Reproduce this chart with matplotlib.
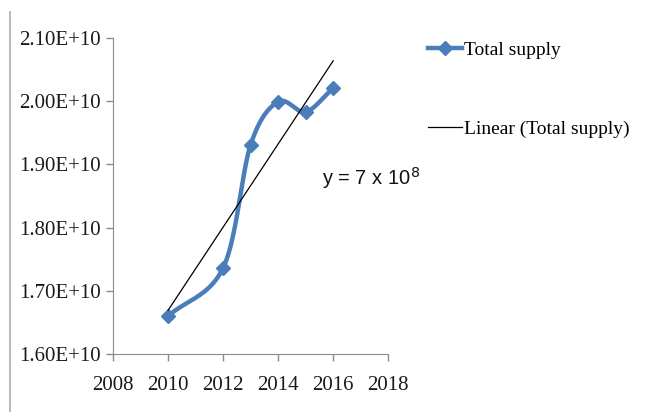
import numpy as np
import matplotlib.pyplot as plt
from matplotlib.lines import Line2D

years = [2010, 2012, 2013, 2014, 2015, 2016]
total_supply = [1.660e10, 1.736e10, 1.931e10, 1.999e10, 1.983e10, 2.021e10]
x_ticks = [2008, 2010, 2012, 2014, 2016, 2018]
y_ticks = [1.6e10, 1.7e10, 1.8e10, 1.9e10, 2.0e10, 2.1e10]

blue = '#4a7ebb'
grey = '#8c8c8c'


def smooth(xs, ys, n=40):
    # Catmull-Rom curve through the points (like Excel's smoothed line)
    xs = np.asarray(xs, float)
    ys = np.asarray(ys, float)
    px = np.concatenate([[2 * xs[0] - xs[1]], xs, [2 * xs[-1] - xs[-2]]])
    py = np.concatenate([[2 * ys[0] - ys[1]], ys, [2 * ys[-1] - ys[-2]]])
    out_x, out_y = [], []
    t = np.linspace(0, 1, n)
    for i in range(1, len(px) - 2):
        for p, out in ((px, out_x), (py, out_y)):
            p0, p1, p2, p3 = p[i - 1], p[i], p[i + 1], p[i + 2]
            seg = 0.5 * ((2 * p1) + (-p0 + p2) * t
                         + (2 * p0 - 5 * p1 + 4 * p2 - p3) * t ** 2
                         + (-p0 + 3 * p1 - 3 * p2 + p3) * t ** 3)
            out.extend(seg)
    return out_x, out_y


fig = plt.figure(figsize=(6.46, 4.12), dpi=100)
ax = fig.add_axes([0.175, 0.141, 0.426, 0.767])

sx, sy = smooth(years, total_supply)
ax.plot(sx, sy, color=blue, lw=3.2, solid_capstyle='round', zorder=3)
ax.plot(years, total_supply, 'D', color=blue, ms=7.5, zorder=4)

coef = np.polyfit(years, total_supply, 1)
tx = np.array([years[0], years[-1]])
ax.plot(tx, np.polyval(coef, tx), color='black', lw=0.9, zorder=5)

ax.set_xlim(2008, 2018)
ax.set_ylim(1.6e10, 2.1e10)
ax.set_xticks(x_ticks)
ax.set_yticks(y_ticks)
ax.set_yticklabels(['%.2fE+10' % (v / 1e10) for v in y_ticks])
for s in ('top', 'right'):
    ax.spines[s].set_visible(False)
for s in ('left', 'bottom'):
    ax.spines[s].set_color(grey)
ax.tick_params(colors=grey, labelcolor='#1a1a1a', length=5, width=1,
               labelsize=15)
ax.tick_params(axis='x', pad=11)
for lab in ax.get_xticklabels() + ax.get_yticklabels():
    lab.set_family('Liberation Serif')

ax.text(2015.6, 1.878e10, r'y = 7 x 10$^{8}$', fontsize=14.5, va='center',
        family='Liberation Sans', color='#111111')

handles = [
    Line2D([], [], color=blue, lw=3.2, marker='D', ms=7.5),
    Line2D([], [], color='black', lw=0.9),
]
fig.legend(handles, ['Total supply', 'Linear (Total supply)'],
           loc='upper left', bbox_to_anchor=(0.662, 0.90), frameon=False,
           prop={'family': 'Liberation Serif', 'size': 14},
           borderpad=0, borderaxespad=0,
           handlelength=1.75, handletextpad=0.1, labelspacing=3.15)

fig.add_artist(Line2D([0.016, 0.016], [0.0, 0.97], color='#aaaaaa', lw=1.2))

fig.savefig('out.png', dpi=100)
